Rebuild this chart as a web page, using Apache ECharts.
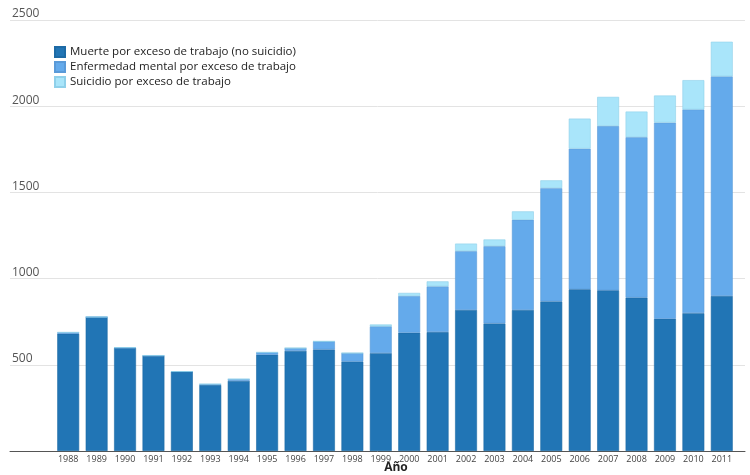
<!DOCTYPE html>
<html>
<head>
<meta charset="utf-8">
<script src="https://cdn.jsdelivr.net/npm/echarts@6/dist/echarts.min.js"></script>
<style>
html,body{margin:0;padding:0;background:#fff;}
#chart{width:750px;height:475px;}
</style>
</head>
<body>
<div id="chart"></div>
<script>
const years = ['1988','1989','1990','1991','1992','1993','1994','1995','1996','1997','1998','1999','2000','2001','2002','2003','2004','2005','2006','2007','2008','2009','2010','2011'];
const muerte = [680,777,598,552,460,383,407,558,581,589,519,568,686,690,818,740,818,868,938,932,890,767,800,899];
const mental = [8,0,2,2,1,5,10,14,16,47,49,155,213,265,341,448,523,657,816,953,930,1138,1181,1274];
const suicidio = [0,0,0,0,0,0,0,0,0,0,0,11,18,29,44,39,49,45,174,169,149,157,170,201];
const seriesNames = ['Muerte por exceso de trabajo (no suicidio)','Enfermedad mental por exceso de trabajo','Suicidio por exceso de trabajo'];
const yTicks = {min:0, max:2500, interval:500};
const axisName = 'Año';

const colors = ['#2175b5','#64aaeb','#a9e5fa'];
const borders = ['#1d6aa5','#5a9ad8','#8fd0ea'];
const font = "'Open Sans', 'Liberation Sans', sans-serif";

const chart = echarts.init(document.getElementById('chart'));
const dataSets = [muerte, mental, suicidio];
chart.setOption({
  animation:false,
  textStyle:{fontFamily:font},
  title:{
    text:axisName, left:396, top:462, textAlign:'center', padding:0,
    textStyle:{fontSize:12, fontWeight:'bold', color:'#222', fontFamily:font}
  },
  legend:{
    orient:'vertical', left:49, top:41,
    itemWidth:10, itemHeight:10, itemGap:3,
    icon:'rect',
    textStyle:{fontSize:11.5, color:'#222', fontFamily:font},
    data: seriesNames
  },
  grid:[
    {left:10, right:5, top:20, bottom:24, outerBoundsMode:'none', containLabel:false},
    {left:54, right:14, top:20, bottom:24, outerBoundsMode:'none', containLabel:false}
  ],
  xAxis:[
    {gridIndex:0, type:'value', min:0, max:1, axisLabel:{show:false}, axisTick:{show:false}, splitLine:{show:false},
     axisLine:{show:true, lineStyle:{color:'#555', width:1}}},
    {gridIndex:1, type:'category', data:years, axisLine:{show:false}, axisTick:{show:false},
     axisLabel:{fontSize:9, color:'#444', margin:4}}
  ],
  yAxis:[
    {gridIndex:0, type:'value', min:yTicks.min, max:yTicks.max, interval:yTicks.interval,
     axisLine:{show:false}, axisTick:{show:false},
     axisLabel:{inside:true, showMinLabel:false, verticalAlign:'bottom', fontSize:12, color:'#555', margin:2, padding:[0,0,0,0],
       formatter:(v)=>String(v)},
     splitLine:{show:true, lineStyle:{color:'#e3e3e3', width:1}}},
    {gridIndex:1, type:'value', min:yTicks.min, max:yTicks.max, interval:yTicks.interval, show:false, splitLine:{show:false}}
  ],
  series: seriesNames.map((n,i)=>({
    name:n, type:'bar', stack:'total', xAxisIndex:1, yAxisIndex:1,
    barCategoryGap:'23%',
    itemStyle:{color:colors[i], borderColor:borders[i], borderWidth:0.6},
    data:dataSets[i]
  }))
});
</script>
</body>
</html>
